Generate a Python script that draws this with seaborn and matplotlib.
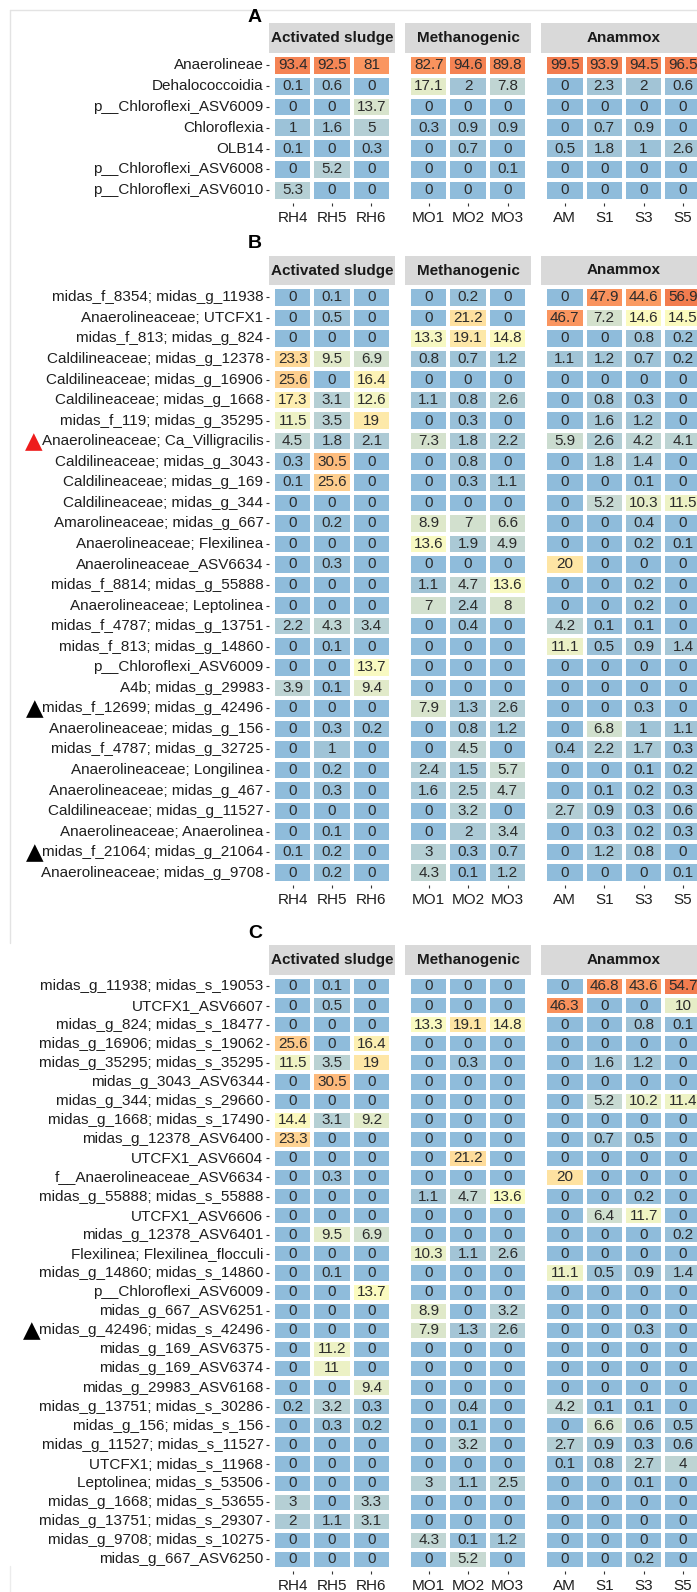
import numpy as np
import pandas as pd
import matplotlib
matplotlib.use("Agg")
import matplotlib.pyplot as plt
import seaborn as sns
from matplotlib.colors import LinearSegmentedColormap
from matplotlib.lines import Line2D

# ---------------- data ----------------
groups = ["Activated sludge", "Methanogenic", "Anammox"]
sludge_samples = ["RH4", "RH5", "RH6"]
methano_samples = ["MO1", "MO2", "MO3"]
anammox_samples = ["AM", "S1", "S3", "S5"]

A_labels = ["Anaerolineae", "Dehalococcoidia", "p__Chloroflexi_ASV6009", "Chloroflexia",
            "OLB14", "p__Chloroflexi_ASV6008", "p__Chloroflexi_ASV6010"]
A_sludge = [[93.4, 92.5, 81], [0.1, 0.6, 0], [0, 0, 13.7], [1, 1.6, 5],
            [0.1, 0, 0.3], [0, 5.2, 0], [5.3, 0, 0]]
A_methano = [[82.7, 94.6, 89.8], [17.1, 2, 7.8], [0, 0, 0], [0.3, 0.9, 0.9],
             [0, 0.7, 0], [0, 0, 0.1], [0, 0, 0]]
A_anammox = [[99.5, 93.9, 94.5, 96.5], [0, 2.3, 2, 0.6], [0, 0, 0, 0], [0, 0.7, 0.9, 0],
             [0.5, 1.8, 1, 2.6], [0, 0, 0, 0], [0, 0, 0, 0]]

B_labels = ["midas_f_8354; midas_g_11938", "Anaerolineaceae; UTCFX1", "midas_f_813; midas_g_824",
            "Caldilineaceae; midas_g_12378", "Caldilineaceae; midas_g_16906",
            "Caldilineaceae; midas_g_1668", "midas_f_119; midas_g_35295",
            "Anaerolineaceae; Ca_Villigracilis", "Caldilineaceae; midas_g_3043",
            "Caldilineaceae; midas_g_169", "Caldilineaceae; midas_g_344",
            "Amarolineaceae; midas_g_667", "Anaerolineaceae; Flexilinea",
            "Anaerolineaceae_ASV6634", "midas_f_8814; midas_g_55888",
            "Anaerolineaceae; Leptolinea", "midas_f_4787; midas_g_13751",
            "midas_f_813; midas_g_14860", "p__Chloroflexi_ASV6009", "A4b; midas_g_29983",
            "midas_f_12699; midas_g_42496", "Anaerolineaceae; midas_g_156",
            "midas_f_4787; midas_g_32725", "Anaerolineaceae; Longilinea",
            "Anaerolineaceae; midas_g_467", "Caldilineaceae; midas_g_11527",
            "Anaerolineaceae; Anaerolinea", "midas_f_21064; midas_g_21064",
            "Anaerolineaceae; midas_g_9708"]
B_sludge = [[0, 0.1, 0], [0, 0.5, 0], [0, 0, 0], [23.3, 9.5, 6.9], [25.6, 0, 16.4],
            [17.3, 3.1, 12.6], [11.5, 3.5, 19], [4.5, 1.8, 2.1], [0.3, 30.5, 0],
            [0.1, 25.6, 0], [0, 0, 0], [0, 0.2, 0], [0, 0, 0], [0, 0.3, 0], [0, 0, 0],
            [0, 0, 0], [2.2, 4.3, 3.4], [0, 0.1, 0], [0, 0, 13.7], [3.9, 0.1, 9.4],
            [0, 0, 0], [0, 0.3, 0.2], [0, 1, 0], [0, 0.2, 0], [0, 0.3, 0], [0, 0, 0],
            [0, 0.1, 0], [0.1, 0.2, 0], [0, 0.2, 0]]
B_methano = [[0, 0.2, 0], [0, 21.2, 0], [13.3, 19.1, 14.8], [0.8, 0.7, 1.2], [0, 0, 0],
             [1.1, 0.8, 2.6], [0, 0.3, 0], [7.3, 1.8, 2.2], [0, 0.8, 0], [0, 0.3, 1.1],
             [0, 0, 0], [8.9, 7, 6.6], [13.6, 1.9, 4.9], [0, 0, 0], [1.1, 4.7, 13.6],
             [7, 2.4, 8], [0, 0.4, 0], [0, 0, 0], [0, 0, 0], [0, 0, 0], [7.9, 1.3, 2.6],
             [0, 0.8, 1.2], [0, 4.5, 0], [2.4, 1.5, 5.7], [1.6, 2.5, 4.7], [0, 3.2, 0],
             [0, 2, 3.4], [3, 0.3, 0.7], [4.3, 0.1, 1.2]]
B_anammox = [[0, 47.9, 44.6, 56.9], [46.7, 7.2, 14.6, 14.5], [0, 0, 0.8, 0.2],
             [1.1, 1.2, 0.7, 0.2], [0, 0, 0, 0], [0, 0.8, 0.3, 0], [0, 1.6, 1.2, 0],
             [5.9, 2.6, 4.2, 4.1], [0, 1.8, 1.4, 0], [0, 0, 0.1, 0], [0, 5.2, 10.3, 11.5],
             [0, 0, 0.4, 0], [0, 0, 0.2, 0.1], [20, 0, 0, 0], [0, 0, 0.2, 0],
             [0, 0, 0.2, 0], [4.2, 0.1, 0.1, 0], [11.1, 0.5, 0.9, 1.4], [0, 0, 0, 0],
             [0, 0, 0, 0], [0, 0, 0.3, 0], [0, 6.8, 1, 1.1], [0.4, 2.2, 1.7, 0.3],
             [0, 0, 0.1, 0.2], [0, 0.1, 0.2, 0.3], [2.7, 0.9, 0.3, 0.6], [0, 0.3, 0.2, 0.3],
             [0, 1.2, 0.8, 0], [0, 0, 0, 0.1]]

C_labels = ["midas_g_11938; midas_s_19053", "UTCFX1_ASV6607", "midas_g_824; midas_s_18477",
            "midas_g_16906; midas_s_19062", "midas_g_35295; midas_s_35295",
            "midas_g_3043_ASV6344", "midas_g_344; midas_s_29660",
            "midas_g_1668; midas_s_17490", "midas_g_12378_ASV6400", "UTCFX1_ASV6604",
            "f__Anaerolineaceae_ASV6634", "midas_g_55888; midas_s_55888", "UTCFX1_ASV6606",
            "midas_g_12378_ASV6401", "Flexilinea; Flexilinea_flocculi",
            "midas_g_14860; midas_s_14860", "p__Chloroflexi_ASV6009", "midas_g_667_ASV6251",
            "midas_g_42496; midas_s_42496", "midas_g_169_ASV6375", "midas_g_169_ASV6374",
            "midas_g_29983_ASV6168", "midas_g_13751; midas_s_30286",
            "midas_g_156; midas_s_156", "midas_g_11527; midas_s_11527",
            "UTCFX1; midas_s_11968", "Leptolinea; midas_s_53506",
            "midas_g_1668; midas_s_53655", "midas_g_13751; midas_s_29307",
            "midas_g_9708; midas_s_10275", "midas_g_667_ASV6250"]
C_sludge = [[0, 0.1, 0], [0, 0.5, 0], [0, 0, 0], [25.6, 0, 16.4], [11.5, 3.5, 19],
            [0, 30.5, 0], [0, 0, 0], [14.4, 3.1, 9.2], [23.3, 0, 0], [0, 0, 0],
            [0, 0.3, 0], [0, 0, 0], [0, 0, 0], [0, 9.5, 6.9], [0, 0, 0], [0, 0.1, 0],
            [0, 0, 13.7], [0, 0, 0], [0, 0, 0], [0, 11.2, 0], [0, 11, 0], [0, 0, 9.4],
            [0.2, 3.2, 0.3], [0, 0.3, 0.2], [0, 0, 0], [0, 0, 0], [0, 0, 0],
            [3, 0, 3.3], [2, 1.1, 3.1], [0, 0, 0], [0, 0, 0]]
C_methano = [[0, 0, 0], [0, 0, 0], [13.3, 19.1, 14.8], [0, 0, 0], [0, 0.3, 0],
             [0, 0, 0], [0, 0, 0], [0, 0, 0], [0, 0, 0], [0, 21.2, 0], [0, 0, 0],
             [1.1, 4.7, 13.6], [0, 0, 0], [0, 0, 0], [10.3, 1.1, 2.6], [0, 0, 0],
             [0, 0, 0], [8.9, 0, 3.2], [7.9, 1.3, 2.6], [0, 0, 0], [0, 0, 0], [0, 0, 0],
             [0, 0.4, 0], [0, 0.1, 0], [0, 3.2, 0], [0, 0, 0], [3, 1.1, 2.5], [0, 0, 0],
             [0, 0, 0], [4.3, 0.1, 1.2], [0, 5.2, 0]]
C_anammox = [[0, 46.8, 43.6, 54.7], [46.3, 0, 0, 10], [0, 0, 0.8, 0.1], [0, 0, 0, 0],
             [0, 1.6, 1.2, 0], [0, 0, 0, 0], [0, 5.2, 10.2, 11.4], [0, 0, 0, 0],
             [0, 0.7, 0.5, 0], [0, 0, 0, 0], [20, 0, 0, 0], [0, 0, 0.2, 0],
             [0, 6.4, 11.7, 0], [0, 0, 0, 0.2], [0, 0, 0, 0], [11.1, 0.5, 0.9, 1.4],
             [0, 0, 0, 0], [0, 0, 0, 0], [0, 0, 0.3, 0], [0, 0, 0, 0], [0, 0, 0, 0],
             [0, 0, 0, 0], [4.2, 0.1, 0.1, 0], [0, 6.6, 0.6, 0.5], [2.7, 0.9, 0.3, 0.6],
             [0.1, 0.8, 2.7, 4], [0, 0, 0.1, 0], [0, 0, 0, 0], [0, 0, 0, 0], [0, 0, 0, 0],
             [0, 0, 0.2, 0]]

# markers in front of labels: (panel, label) -> colour
marked = {("B", "Anaerolineaceae; Ca_Villigracilis"): "#ee1c1c",
          ("B", "midas_f_12699; midas_g_42496"): "black",
          ("B", "midas_f_21064; midas_g_21064"): "black",
          ("C", "midas_g_42496; midas_s_42496"): "black"}

# ---------------- style ----------------
sns.set_theme(style="white")
plt.rcParams['font.family'] = ['Liberation Sans', 'DejaVu Sans']

W, H, DPI = 697, 1592, 100
fig = plt.figure(figsize=(W / DPI, H / DPI), dpi=DPI)
fig.patch.set_facecolor("white")

cmap = LinearSegmentedColormap.from_list("amp", [
    (0.0, "#8fbcdb"), (0.15, "#a3c5d6"), (0.3, "#c5d8d2"), (0.42, "#e4ecc8"),
    (0.5, "#fbfbc0"), (0.6, "#fee3a2"), (0.73, "#fdbd7e"), (0.9, "#fa9760"),
    (1.0, "#f27c4f")])

LABEL_FS = 11
TXT = "#1e1e1e"


def px_axes(x0, y0, x1, y1, **kw):
    return fig.add_axes([x0 / W, 1 - y1 / H, (x1 - x0) / W, (y1 - y0) / H], **kw)


P = 39.4
col_x0 = [269.0]
for n in (3, 3):
    col_x0.append(col_x0[-1] + (n + 0.2) * P + 10)

panels = {
    "A": dict(labels=A_labels, data=[A_sludge, A_methano, A_anammox],
              strip=(23, 53), panel=(53, 53 + 7.2 * 20.8), letter=18),
    "B": dict(labels=B_labels, data=[B_sludge, B_methano, B_anammox],
              strip=(256, 285), panel=(285, 285 + 29.2 * 20.55), letter=243.5),
    "C": dict(labels=C_labels, data=[C_sludge, C_methano, C_anammox],
              strip=(945, 975), panel=(975, 975 + 31.2 * 19.1), letter=933),
}
samples = [sludge_samples, methano_samples, anammox_samples]

label_axes = {}
for key, spec in panels.items():
    vmax = max(max(max(r) for r in g) for g in spec["data"])
    nrow = len(spec["labels"])
    for gi, (gname, gdata, gsamp) in enumerate(zip(groups, spec["data"], samples)):
        ncol = len(gsamp)
        x0 = col_x0[gi]
        x1 = x0 + (ncol + 0.2) * P
        # strip
        sax = px_axes(x0, spec["strip"][0], x1, spec["strip"][1])
        sax.set_facecolor("#d9d9d9")
        sax.set_xticks([]); sax.set_yticks([])
        for s in sax.spines.values():
            s.set_visible(False)
        sax.text(0.5, 0.5, gname, ha="center", va="center", fontsize=11,
                 fontweight="bold", color="#1a1a1a", transform=sax.transAxes)
        # heatmap
        ax = px_axes(x0, spec["panel"][0], x1, spec["panel"][1])
        df = pd.DataFrame(gdata, index=spec["labels"], columns=gsamp)
        shade = np.sqrt(df.values / vmax)
        annot = np.array([[f"{v:g}" for v in row] for row in df.values])
        sns.heatmap(pd.DataFrame(shade, index=df.index, columns=df.columns), ax=ax,
                    cmap=cmap, vmin=0, vmax=1, cbar=False, annot=annot, fmt="",
                    annot_kws={"fontsize": LABEL_FS, "color": "#2b2b2b"},
                    linewidths=1.6, linecolor="white",
                    yticklabels=(gi == 0))
        ax.set_xlim(-0.1, ncol + 0.1)
        ax.set_ylim(nrow + 0.1, -0.1)
        ax.set_xlabel(""); ax.set_ylabel("")
        ax.tick_params(axis="x", bottom=True, length=2.5, width=0.8, color="#333333",
                       pad=3.3, labelsize=LABEL_FS, labelcolor=TXT, labelrotation=0)
        if gi == 0:
            ax.tick_params(axis="y", left=True, length=2.5, width=0.8, color="#333333",
                           pad=1.5, labelsize=LABEL_FS, labelcolor=TXT, labelrotation=0)
            label_axes[key] = ax
        else:
            ax.tick_params(axis="y", left=False)
    fig.text(255 / W, 1 - spec["letter"] / H, key, ha="center", va="center",
             fontsize=14, fontweight="bold", color="black")

# light frame of the composed figure
fig.add_artist(Line2D([10 / W, 1.0], [1 - 10 / H, 1 - 10 / H], color="#e3e3e3", lw=1.0))
fig.add_artist(Line2D([10 / W, 10 / W], [1 - 10 / H, 1 - 943 / H], color="#e3e3e3", lw=1.0))
fig.add_artist(Line2D([10 / W, 10 / W], [1 - 1566 / H, 0.0], color="#ececec", lw=1.0))

# triangles in front of marked labels
fig.canvas.draw()
renderer = fig.canvas.get_renderer()
for (key, lab), col in marked.items():
    ax = label_axes[key]
    for tl in ax.get_yticklabels():
        if tl.get_text() == lab:
            bb = tl.get_window_extent(renderer)
            fig.text((bb.x0 + 1) / W, (bb.y0 + bb.y1) / 2 / H - 0.0004, "\u25B2",
                     ha="right", va="center", fontsize=16.5, color=col,
                     family="DejaVu Sans")

fig.savefig("out.png", dpi=DPI)
